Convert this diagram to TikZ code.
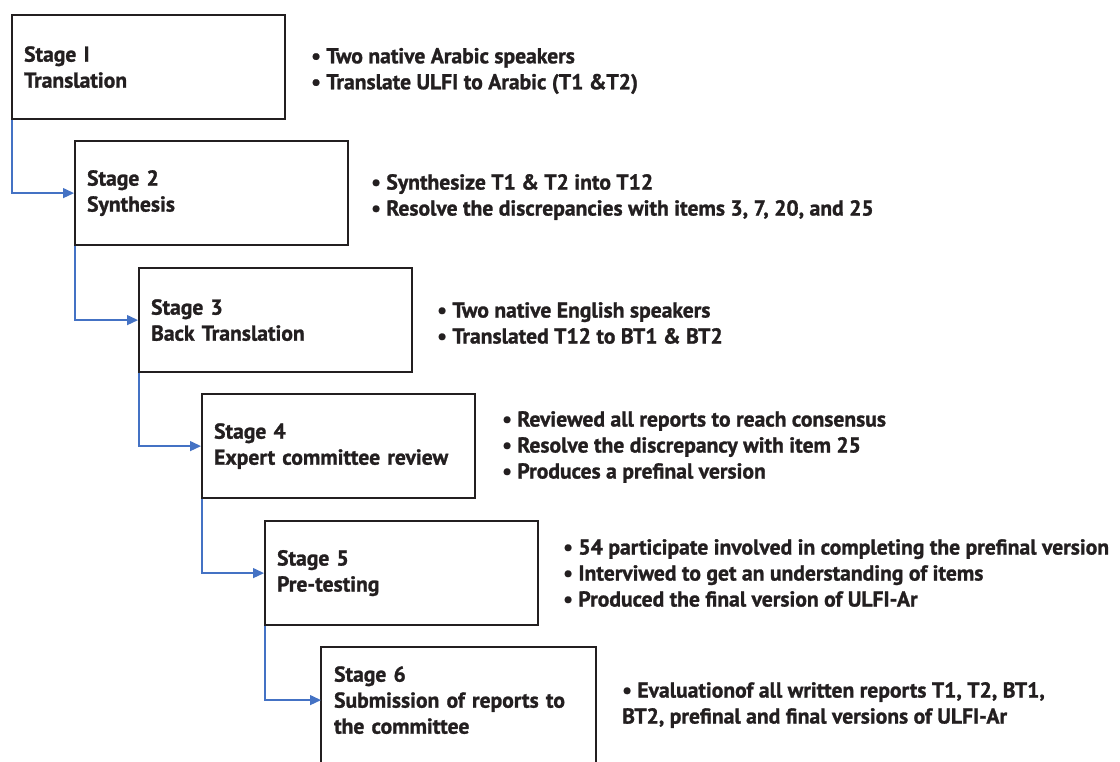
\documentclass[tikz,border=0pt]{standalone}
\usepackage{fontspec}
\setmainfont{PT Sans}[BoldFeatures={FakeBold=1.2}]
\usepackage{xcolor}
\usetikzlibrary{arrows.meta,positioning}

\definecolor{inkdark}{HTML}{231F20}
\definecolor{flowblue}{HTML}{4472C4}

\begin{document}
\begin{tikzpicture}[
    x=1pt, y=-1pt,
    >=Latex,
    every node/.style={font=\fontsize{21.6}{26}\selectfont\bfseries, text=inkdark},
    stagebox/.style={draw=inkdark, line width=2.2pt, anchor=north west,
        minimum width=273pt, minimum height=104pt, text width=249pt,
        inner xsep=12pt, inner ysep=0pt, align=left},
    boxline/.style={draw=inkdark, line width=2.2pt},
    notes/.style={anchor=west, align=left, inner sep=0pt},
    flow/.style={flowblue, line width=1.4pt, -{Triangle[length=11pt,width=10pt]}}
]

% Page frame
\path[use as bounding box] (0,0) rectangle (1120,761);
\clip (0,0) rectangle (1120,761);

% Stage boxes
\node[stagebox] (s1) at (11,14) {Stage I\\Translation};
\node[stagebox] (s2) at (74,140) {Stage 2\\Synthesis};
\node[stagebox] (s3) at (138,267) {Stage 3\\Back Translation};
\node[stagebox] (s4) at (201,393) {Stage 4\\Expert committee review};
\node[stagebox] (s5) at (264,520) {Stage 5\\Pre-testing};
\node[stagebox,draw=none] (s6) at (321,647)
    {Stage 6\\Submission of reports to\\the committee};
\draw[boxline] (s6.north west) rectangle ([yshift=-40pt]s6.south east);

% Connectors
\draw[flow] ([xshift=1pt]s1.south west) |- (s2.west);
\draw[flow] ([xshift=1pt]s2.south west) |- (s3.west);
\draw[flow] ([xshift=1pt]s3.south west) |- (s4.west);
\draw[flow] ([xshift=1pt]s4.south west) |- (s5.west);
\draw[flow] ([xshift=1pt]s5.south west) |- (s6.west);

% Notes
\node[notes] (n1) at (311,71)
    {\textbullet\ Two native Arabic speakers\\
     \textbullet\ Translate ULFI to Arabic (T1 \&T2)};
\node[notes] (n2) at (371,197)
    {\textbullet\ Synthesize T1 \& T2 into T12\\
     \textbullet\ Resolve the discrepancies with items 3, 7, 20, and 25};
\node[notes] (n3) at (437,323)
    {\textbullet\ Two native English speakers\\
     \textbullet\ Translated T12 to BT1 \& BT2};
\node[notes] (n4) at (502,447)
    {\textbullet\ Reviewed all reports to reach consensus\\
     \textbullet\ Resolve the discrepancy with item 25\\
     \textbullet\ Produces a prefinal version};
\node[notes] (n5) at (563,573)
    {\textbullet\ 54 participate involved in completing the prefinal version\\
     \textbullet\ Interviwed to get an understanding of items\\
     \textbullet\ Produced the final version of ULFI-Ar};
\node[notes] (n6) at (622,705)
    {\textbullet\ Evaluationof all written reports T1, T2, BT1,\\
     BT2, prefinal and final versions of ULFI-Ar};

\end{tikzpicture}
\end{document}
